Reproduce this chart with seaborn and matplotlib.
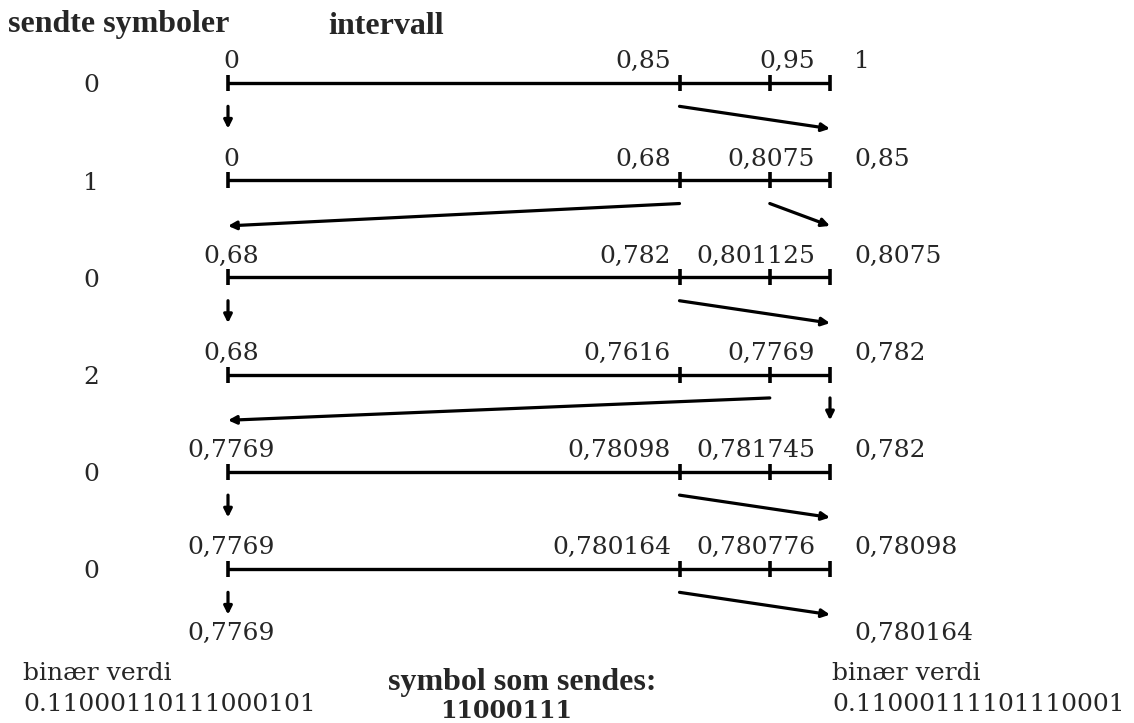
"""
Aritmetisk koding: intervallene for hvert sendt symbol
"""
import matplotlib
matplotlib.use("Agg")
import matplotlib.pyplot as plt
import numpy as np
import pandas as pd
import seaborn as sns

# data
symbols = [0, 1, 0, 2, 0, 0]
lows = [0.0, 0.0, 0.68, 0.68, 0.7769, 0.7769, 0.7769]
cut1 = [0.85, 0.68, 0.782, 0.7616, 0.78098, 0.780164]
cut2 = [0.95, 0.8075, 0.801125, 0.7769, 0.781745, 0.780776]
highs = [1.0, 0.85, 0.8075, 0.782, 0.782, 0.78098, 0.780164]
bin_low = "0.11000110111000101"
bin_high = "0.11000111101110001"
sent_bits = "11000111"

# skjematiske posisjoner for delepunktene på hver linje
TICK_X = [0.0, 0.75, 0.9, 1.0]

W, H = 1134, 723
X0, XLEN = 228, 602      # piksel for x=0 og lengde av linja
Y0, ROW = 83, 97.2       # piksel for rad 0 og radavstand


def px(x):
    return (x - X0) / XLEN


def py(y):
    return (y - Y0) / ROW


def fmt(v):
    return f"{v:g}".replace(".", ",")


sns.set_theme(style="white")
plt.rcParams["font.family"] = ["DejaVu Serif", "Liberation Serif"]
FS = 18
BOLD = dict(fontsize=23, fontweight="bold", family=["Liberation Serif", "DejaVu Serif"])

fig = plt.figure(figsize=(W / 100, H / 100), dpi=100)
ax = fig.add_axes([0, 0, 1, 1])
ax.set_xlim(px(0), px(W))
ax.set_ylim(py(H), py(0))
ax.axis("off")

n = len(symbols)
ticks = pd.DataFrame(
    [(x, r) for r in range(n) for x in TICK_X], columns=["x", "row"]
)
ax.hlines(range(n), TICK_X[0], TICK_X[-1], color="black", lw=2.4)
sns.scatterplot(data=ticks, x="x", y="row", marker="|", s=120,
                linewidth=2.6, color="black", ax=ax, legend=False)

lab_off = 0.15
for r in range(n):
    ax.text(px(91), r + 0.03, str(symbols[r]), ha="center", va="center", fontsize=FS)
    ax.text(px(231), r - lab_off, fmt(lows[r]), ha="center", va="baseline", fontsize=FS)
    ax.text(px(671), r - lab_off, fmt(cut1[r]), ha="right", va="baseline", fontsize=FS)
    ax.text(px(815), r - lab_off, fmt(cut2[r]), ha="right", va="baseline", fontsize=FS)
    ax.text(px(854), r - lab_off, fmt(highs[r]), ha="left", va="baseline", fontsize=FS)

    # piler fra valgt delintervall til neste linje
    s = symbols[r]
    a, b = TICK_X[s], TICK_X[s + 1]
    for start, end in ((a, 0.0), (b, 1.0)):
        ax.annotate("", xy=(end, r + 0.47), xytext=(start, r + 0.24),
                    arrowprops=dict(arrowstyle="-|>", lw=2.3, color="black",
                                    mutation_scale=12, shrinkA=0, shrinkB=0))

# siste intervall
last_y = n - 1 + 0.73
ax.text(px(231), last_y, fmt(lows[n]), ha="center", va="baseline", fontsize=FS)
ax.text(px(854), last_y, fmt(highs[n]), ha="left", va="baseline", fontsize=FS)

# overskrifter
ax.text(px(8), py(32), "sendte symboler", ha="left", va="baseline", **BOLD)
ax.text(px(328), py(34), "intervall", ha="left", va="baseline", **BOLD)

# bunntekst
ax.text(px(23), py(680), "binær verdi", ha="left", va="baseline", fontsize=FS)
ax.text(px(23), py(711), bin_low, ha="left", va="baseline", fontsize=FS)
ax.text(px(832), py(680), "binær verdi", ha="left", va="baseline", fontsize=FS)
ax.text(px(832), py(711), bin_high, ha="left", va="baseline", fontsize=FS)
ax.text(px(522), py(690), "symbol som sendes:", ha="center", va="baseline", **BOLD)
ax.text(px(506), py(718), sent_bits, ha="center", va="baseline",
        fontsize=17, fontweight="bold")

fig.savefig("out.png", dpi=100, facecolor="white")
